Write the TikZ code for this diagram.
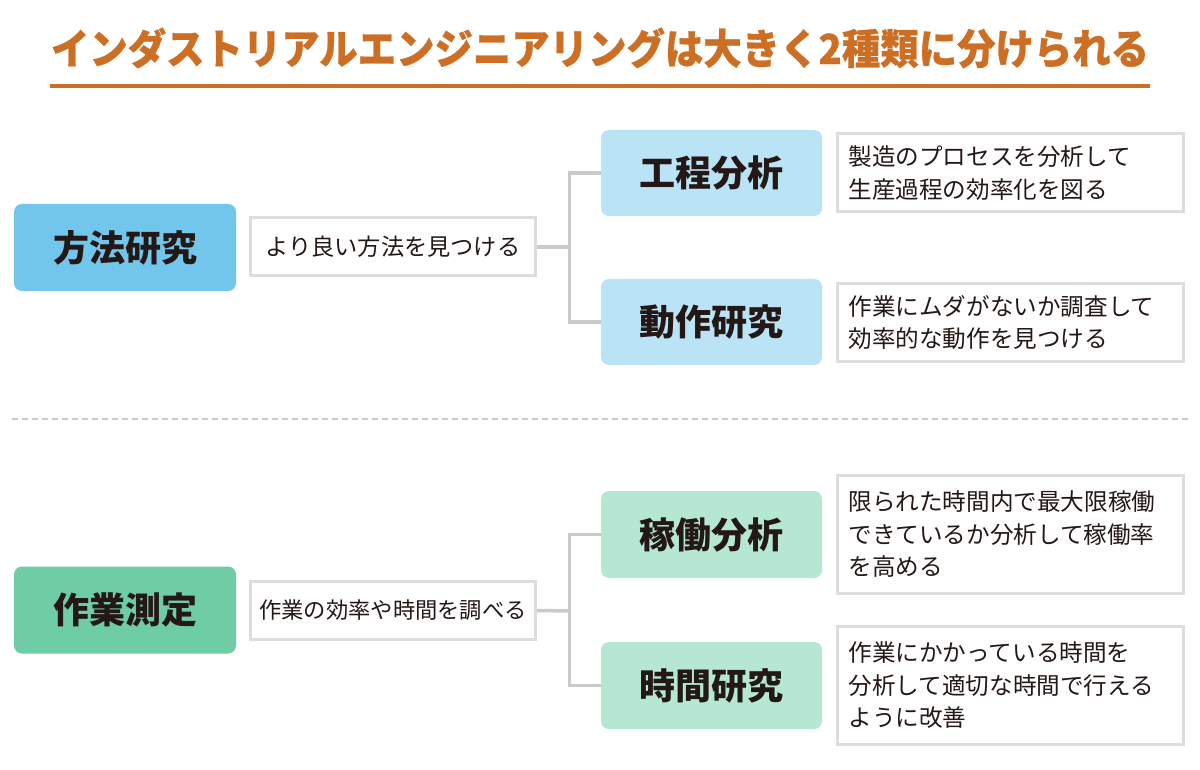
\documentclass[tikz,border=0pt]{standalone}
\usepackage{fontspec}
\setmainfont{Noto Sans CJK JP}
\newfontfamily\ttlfont{Noto Sans CJK JP}[BoldFeatures={FakeBold=0.6}]
\definecolor{ttl}{HTML}{CC6E23}
\definecolor{ink}{HTML}{231815}
\definecolor{bord}{HTML}{DCDDDD}
\definecolor{conn}{HTML}{C9CACA}
\definecolor{blueA}{HTML}{72C6EB}
\definecolor{blueB}{HTML}{BAE3F6}
\definecolor{greenA}{HTML}{6FCDA5}
\definecolor{greenB}{HTML}{B5E7D2}
\tikzset{
  mainbox/.style={rounded corners=8pt, minimum width=222pt, minimum height=87pt, inner sep=0pt,
    text=ink, font=\fontsize{36}{36}\selectfont\bfseries},
  subbox/.style={rounded corners=8pt, minimum width=221pt, minimum height=86pt, inner sep=0pt,
    text=ink, font=\fontsize{36}{36}\selectfont\bfseries},
  midbox/.style={draw=bord, line width=3pt, fill=white, minimum width=285pt, minimum height=58pt,
    inner sep=0pt, text=ink},
  descbox/.style={draw=bord, line width=3pt, fill=white, minimum width=346pt, inner xsep=11pt,
    inner ysep=0pt, text width=324pt, align=left, text=ink, font=\fontsize{23.6}{32.5}\selectfont},
  connline/.style={draw=conn, line width=3.5pt},
  dashline/.style={draw=conn, line width=2pt, dash pattern=on 6pt off 4pt}
}
\begin{document}
\begin{tikzpicture}[x=1pt,y=-1pt]
\useasboundingbox[fill=white] (0,0) rectangle (1200,770);

% title
\node[text=ttl, font=\fontsize{38.4}{38.4}\ttlfont\bfseries, inner sep=0pt] (title) at (600,48)
  {\scalebox{1}[1.08]{インダストリアルエンジニアリングは大きく2種類に分けられる}};
\coordinate (ul) at (50,86);
\coordinate (ur) at (1150,86);
\draw[ttl, line width=4pt] (ul) -- (ur);

% separator
\coordinate (dl) at (12,419);
\coordinate (dr) at (1188,419);
\draw[dashline] (dl) -- (dr);

% top group
\node[mainbox, fill=blueA] (m1) at (125,247.5) {方法研究};
\node[midbox, font=\fontsize{23.2}{23.2}\selectfont] (d1) at (393,247) {より良い方法を見つける};
\node[subbox, fill=blueB] (s1) at (711.5,173) {工程分析};
\node[subbox, fill=blueB] (s2) at (711.5,322) {動作研究};
\node[descbox, minimum height=78pt] (e1) at (1010.5,173) {製造のプロセスを分析して\\生産過程の効率化を図る};
\node[descbox, minimum height=77pt] (e2) at (1010.5,322.5) {作業にムダがないか調査して\\効率的な動作を見つける};
\coordinate (j1) at (569.5,247);
\draw[connline] (d1.east) -- (j1);
\draw[connline] (s1.west) -| (j1) |- (s2.west);

% bottom group
\node[mainbox, fill=greenA] (m2) at (125,610) {作業測定};
\node[midbox, font=\fontsize{22.3}{22.3}\selectfont] (d2) at (393,610.5) {作業の効率や時間を調べる};
\node[subbox, minimum height=87pt, fill=greenB] (s3) at (711.5,534.5) {稼働分析};
\node[subbox, minimum height=87pt, fill=greenB] (s4) at (711.5,685.5) {時間研究};
\node[descbox, minimum height=118pt] (e3) at (1010.5,534.5) {限られた時間内で最大限稼働\\できているか分析して稼働率\\を高める};
\node[descbox, minimum height=118pt] (e4) at (1010.5,685.5) {作業にかかっている時間を\\分析して適切な時間で行える\\ように改善};
\coordinate (j2) at (569.5,611);
\draw[connline] (d2.east) -- (j2);
\draw[connline] (s3.west) -| (j2) |- (s4.west);
\end{tikzpicture}
\end{document}
